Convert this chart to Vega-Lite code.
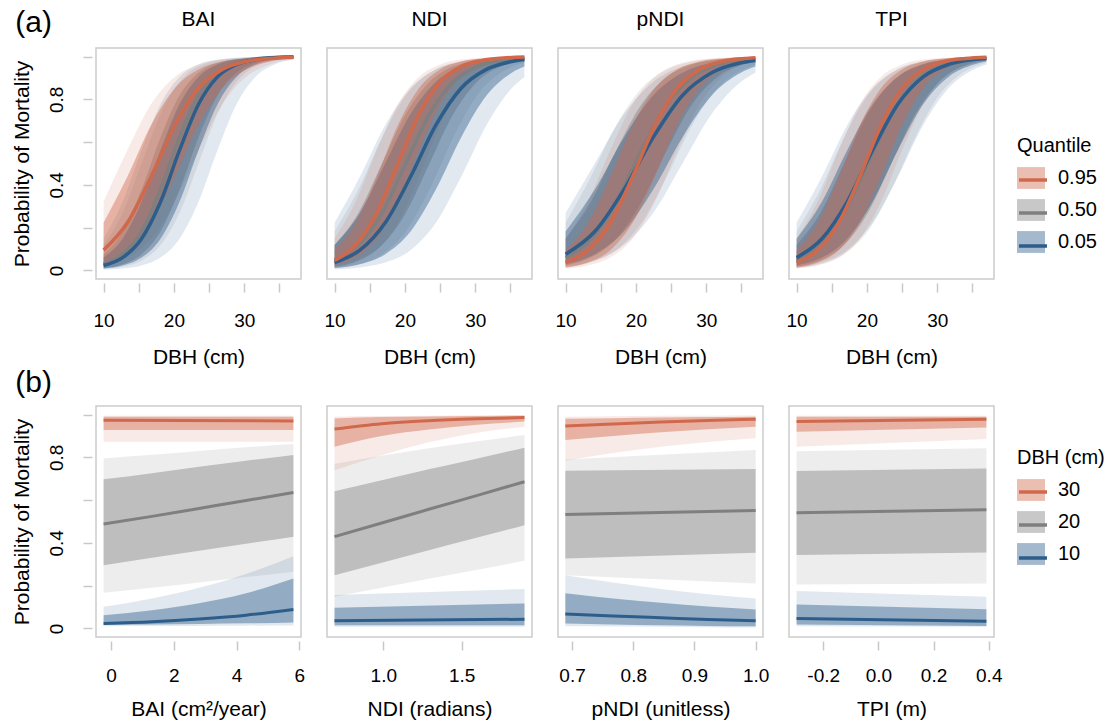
{
"$schema": "https://vega.github.io/schema/vega-lite/v6.json",
"background": "white",
"padding": {"left": 10, "top": 8, "right": 5, "bottom": 5},
"config": {
  "font": "Liberation Sans",
  "view": {"stroke": "#CCCCCC", "strokeWidth": 1.5},
  "axis": {"domain": false, "grid": false, "tickColor": "#C8C8C8", "tickWidth": 1.5, "tickSize": 9, "offset": 4, "labelFontSize": 19, "titleFontSize": 21, "titleFontWeight": "normal", "labelColor": "#000", "titleColor": "#000", "labelPadding": 19, "titlePadding": 16, "labelFlush": false, "labelOverlap": false},
  "title": {"fontSize": 21, "fontWeight": "normal", "color": "#000", "offset": 18},
  "legend": {"titleFontSize": 20, "labelFontSize": 20, "titleFontWeight": "normal", "titleColor": "#000", "labelColor": "#000", "padding": 0, "rowPadding": 7, "titlePadding": 8, "labelOffset": 13, "symbolSize": 784}
},
"datasets": {
"a": [
{"p":"BAI","g":"0.50","x":10,"y":0.029,"l1":0.011,"h1":0.076,"l2":0.007,"h2":0.119},
{"p":"BAI","g":"0.50","x":12.7,"y":0.076,"l1":0.029,"h1":0.182,"l2":0.018,"h2":0.269},
{"p":"BAI","g":"0.50","x":15.4,"y":0.182,"l1":0.076,"h1":0.378,"l2":0.047,"h2":0.5},
{"p":"BAI","g":"0.50","x":18.1,"y":0.378,"l1":0.182,"h1":0.622,"l2":0.119,"h2":0.731},
{"p":"BAI","g":"0.50","x":20.8,"y":0.622,"l1":0.378,"h1":0.818,"l2":0.269,"h2":0.881},
{"p":"BAI","g":"0.50","x":23.5,"y":0.818,"l1":0.622,"h1":0.924,"l2":0.5,"h2":0.953},
{"p":"BAI","g":"0.50","x":26.2,"y":0.924,"l1":0.818,"h1":0.971,"l2":0.731,"h2":0.982},
{"p":"BAI","g":"0.50","x":28.9,"y":0.971,"l1":0.924,"h1":0.989,"l2":0.881,"h2":0.993},
{"p":"BAI","g":"0.50","x":31.6,"y":0.989,"l1":0.971,"h1":0.996,"l2":0.953,"h2":0.998},
{"p":"BAI","g":"0.50","x":34.3,"y":0.996,"l1":0.989,"h1":0.998,"l2":0.982,"h2":0.999},
{"p":"BAI","g":"0.50","x":37,"y":0.998,"l1":0.996,"h1":0.999,"l2":0.993,"h2":1.0},
{"p":"BAI","g":"0.05","x":10,"y":0.023,"l1":0.009,"h1":0.06,"l2":0.003,"h2":0.148},
{"p":"BAI","g":"0.05","x":12.7,"y":0.06,"l1":0.023,"h1":0.148,"l2":0.009,"h2":0.321},
{"p":"BAI","g":"0.05","x":15.4,"y":0.148,"l1":0.06,"h1":0.321,"l2":0.023,"h2":0.562},
{"p":"BAI","g":"0.05","x":18.1,"y":0.321,"l1":0.148,"h1":0.562,"l2":0.06,"h2":0.777},
{"p":"BAI","g":"0.05","x":20.8,"y":0.562,"l1":0.321,"h1":0.777,"l2":0.148,"h2":0.905},
{"p":"BAI","g":"0.05","x":23.5,"y":0.777,"l1":0.562,"h1":0.905,"l2":0.321,"h2":0.963},
{"p":"BAI","g":"0.05","x":26.2,"y":0.905,"l1":0.777,"h1":0.963,"l2":0.562,"h2":0.986},
{"p":"BAI","g":"0.05","x":28.9,"y":0.963,"l1":0.905,"h1":0.986,"l2":0.777,"h2":0.995},
{"p":"BAI","g":"0.05","x":31.6,"y":0.986,"l1":0.963,"h1":0.995,"l2":0.905,"h2":0.998},
{"p":"BAI","g":"0.05","x":34.3,"y":0.995,"l1":0.986,"h1":0.998,"l2":0.963,"h2":0.999},
{"p":"BAI","g":"0.05","x":37,"y":0.998,"l1":0.995,"h1":0.999,"l2":0.986,"h2":1.0},
{"p":"BAI","g":"0.95","x":10,"y":0.095,"l1":0.037,"h1":0.223,"l2":0.023,"h2":0.321},
{"p":"BAI","g":"0.95","x":13.375,"y":0.223,"l1":0.095,"h1":0.438,"l2":0.06,"h2":0.562},
{"p":"BAI","g":"0.95","x":16.75,"y":0.438,"l1":0.223,"h1":0.679,"l2":0.148,"h2":0.777},
{"p":"BAI","g":"0.95","x":20.125,"y":0.679,"l1":0.438,"h1":0.852,"l2":0.321,"h2":0.905},
{"p":"BAI","g":"0.95","x":23.5,"y":0.852,"l1":0.679,"h1":0.94,"l2":0.562,"h2":0.963},
{"p":"BAI","g":"0.95","x":26.875,"y":0.94,"l1":0.852,"h1":0.977,"l2":0.777,"h2":0.986},
{"p":"BAI","g":"0.95","x":30.25,"y":0.977,"l1":0.94,"h1":0.991,"l2":0.905,"h2":0.995},
{"p":"BAI","g":"0.95","x":33.625,"y":0.991,"l1":0.977,"h1":0.997,"l2":0.963,"h2":0.998},
{"p":"BAI","g":"0.95","x":37,"y":0.997,"l1":0.991,"h1":0.999,"l2":0.986,"h2":0.999},
{"p":"NDI","g":"0.50","x":10,"y":0.047,"l1":0.018,"h1":0.119,"l2":0.011,"h2":0.182},
{"p":"NDI","g":"0.50","x":13.375,"y":0.119,"l1":0.047,"h1":0.269,"l2":0.029,"h2":0.378},
{"p":"NDI","g":"0.50","x":16.75,"y":0.269,"l1":0.119,"h1":0.5,"l2":0.076,"h2":0.622},
{"p":"NDI","g":"0.50","x":20.125,"y":0.5,"l1":0.269,"h1":0.731,"l2":0.182,"h2":0.818},
{"p":"NDI","g":"0.50","x":23.5,"y":0.731,"l1":0.5,"h1":0.881,"l2":0.378,"h2":0.924},
{"p":"NDI","g":"0.50","x":26.875,"y":0.881,"l1":0.731,"h1":0.953,"l2":0.622,"h2":0.971},
{"p":"NDI","g":"0.50","x":30.25,"y":0.953,"l1":0.881,"h1":0.982,"l2":0.818,"h2":0.989},
{"p":"NDI","g":"0.50","x":33.625,"y":0.982,"l1":0.953,"h1":0.993,"l2":0.924,"h2":0.996},
{"p":"NDI","g":"0.50","x":37,"y":0.993,"l1":0.982,"h1":0.998,"l2":0.971,"h2":0.999},
{"p":"NDI","g":"0.05","x":10,"y":0.037,"l1":0.011,"h1":0.119,"l2":0.005,"h2":0.223},
{"p":"NDI","g":"0.05","x":13.6,"y":0.095,"l1":0.029,"h1":0.269,"l2":0.014,"h2":0.438},
{"p":"NDI","g":"0.05","x":17.2,"y":0.223,"l1":0.076,"h1":0.5,"l2":0.037,"h2":0.679},
{"p":"NDI","g":"0.05","x":20.8,"y":0.438,"l1":0.182,"h1":0.731,"l2":0.095,"h2":0.852},
{"p":"NDI","g":"0.05","x":24.4,"y":0.679,"l1":0.378,"h1":0.881,"l2":0.223,"h2":0.94},
{"p":"NDI","g":"0.05","x":28,"y":0.852,"l1":0.622,"h1":0.953,"l2":0.438,"h2":0.977},
{"p":"NDI","g":"0.05","x":31.6,"y":0.94,"l1":0.818,"h1":0.982,"l2":0.679,"h2":0.991},
{"p":"NDI","g":"0.05","x":35.2,"y":0.977,"l1":0.924,"h1":0.993,"l2":0.852,"h2":0.997},
{"p":"NDI","g":"0.05","x":37,"y":0.986,"l1":0.953,"h1":0.996,"l2":0.905,"h2":0.998},
{"p":"NDI","g":"0.95","x":10,"y":0.047,"l1":0.023,"h1":0.095,"l2":0.014,"h2":0.148},
{"p":"NDI","g":"0.95","x":13,"y":0.119,"l1":0.06,"h1":0.223,"l2":0.037,"h2":0.321},
{"p":"NDI","g":"0.95","x":16,"y":0.269,"l1":0.148,"h1":0.438,"l2":0.095,"h2":0.562},
{"p":"NDI","g":"0.95","x":19,"y":0.5,"l1":0.321,"h1":0.679,"l2":0.223,"h2":0.777},
{"p":"NDI","g":"0.95","x":22,"y":0.731,"l1":0.562,"h1":0.852,"l2":0.438,"h2":0.905},
{"p":"NDI","g":"0.95","x":25,"y":0.881,"l1":0.777,"h1":0.94,"l2":0.679,"h2":0.963},
{"p":"NDI","g":"0.95","x":28,"y":0.953,"l1":0.905,"h1":0.977,"l2":0.852,"h2":0.986},
{"p":"NDI","g":"0.95","x":31,"y":0.982,"l1":0.963,"h1":0.991,"l2":0.94,"h2":0.995},
{"p":"NDI","g":"0.95","x":34,"y":0.993,"l1":0.986,"h1":0.997,"l2":0.977,"h2":0.998},
{"p":"NDI","g":"0.95","x":37,"y":0.998,"l1":0.995,"h1":0.999,"l2":0.991,"h2":0.999},
{"p":"pNDI","g":"0.50","x":10,"y":0.06,"l1":0.023,"h1":0.148,"l2":0.014,"h2":0.223},
{"p":"pNDI","g":"0.50","x":13.6,"y":0.148,"l1":0.06,"h1":0.321,"l2":0.037,"h2":0.438},
{"p":"pNDI","g":"0.50","x":17.2,"y":0.321,"l1":0.148,"h1":0.562,"l2":0.095,"h2":0.679},
{"p":"pNDI","g":"0.50","x":20.8,"y":0.562,"l1":0.321,"h1":0.777,"l2":0.223,"h2":0.852},
{"p":"pNDI","g":"0.50","x":24.4,"y":0.777,"l1":0.562,"h1":0.905,"l2":0.438,"h2":0.94},
{"p":"pNDI","g":"0.50","x":28,"y":0.905,"l1":0.777,"h1":0.963,"l2":0.679,"h2":0.977},
{"p":"pNDI","g":"0.50","x":31.6,"y":0.963,"l1":0.905,"h1":0.986,"l2":0.852,"h2":0.991},
{"p":"pNDI","g":"0.50","x":35.2,"y":0.986,"l1":0.963,"h1":0.995,"l2":0.94,"h2":0.997},
{"p":"pNDI","g":"0.50","x":37,"y":0.991,"l1":0.977,"h1":0.997,"l2":0.963,"h2":0.998},
{"p":"pNDI","g":"0.05","x":10,"y":0.076,"l1":0.029,"h1":0.182,"l2":0.018,"h2":0.269},
{"p":"pNDI","g":"0.05","x":14.15,"y":0.182,"l1":0.076,"h1":0.378,"l2":0.047,"h2":0.5},
{"p":"pNDI","g":"0.05","x":18.31,"y":0.378,"l1":0.182,"h1":0.622,"l2":0.119,"h2":0.731},
{"p":"pNDI","g":"0.05","x":22.46,"y":0.622,"l1":0.378,"h1":0.818,"l2":0.269,"h2":0.881},
{"p":"pNDI","g":"0.05","x":26.62,"y":0.818,"l1":0.622,"h1":0.924,"l2":0.5,"h2":0.953},
{"p":"pNDI","g":"0.05","x":30.77,"y":0.924,"l1":0.818,"h1":0.971,"l2":0.731,"h2":0.982},
{"p":"pNDI","g":"0.05","x":34.92,"y":0.971,"l1":0.924,"h1":0.989,"l2":0.881,"h2":0.993},
{"p":"pNDI","g":"0.05","x":37,"y":0.982,"l1":0.953,"h1":0.993,"l2":0.924,"h2":0.996},
{"p":"pNDI","g":"0.95","x":10,"y":0.037,"l1":0.014,"h1":0.095,"l2":0.009,"h2":0.148},
{"p":"pNDI","g":"0.95","x":13.18,"y":0.095,"l1":0.037,"h1":0.223,"l2":0.023,"h2":0.321},
{"p":"pNDI","g":"0.95","x":16.35,"y":0.223,"l1":0.095,"h1":0.438,"l2":0.06,"h2":0.562},
{"p":"pNDI","g":"0.95","x":19.53,"y":0.438,"l1":0.223,"h1":0.679,"l2":0.148,"h2":0.777},
{"p":"pNDI","g":"0.95","x":22.71,"y":0.679,"l1":0.438,"h1":0.852,"l2":0.321,"h2":0.905},
{"p":"pNDI","g":"0.95","x":25.88,"y":0.852,"l1":0.679,"h1":0.94,"l2":0.562,"h2":0.963},
{"p":"pNDI","g":"0.95","x":29.06,"y":0.94,"l1":0.852,"h1":0.977,"l2":0.777,"h2":0.986},
{"p":"pNDI","g":"0.95","x":32.24,"y":0.977,"l1":0.94,"h1":0.991,"l2":0.905,"h2":0.995},
{"p":"pNDI","g":"0.95","x":35.41,"y":0.991,"l1":0.977,"h1":0.997,"l2":0.963,"h2":0.998},
{"p":"pNDI","g":"0.95","x":37,"y":0.995,"l1":0.986,"h1":0.998,"l2":0.977,"h2":0.999},
{"p":"TPI","g":"0.50","x":10,"y":0.047,"l1":0.018,"h1":0.119,"l2":0.011,"h2":0.182},
{"p":"TPI","g":"0.50","x":13.375,"y":0.119,"l1":0.047,"h1":0.269,"l2":0.029,"h2":0.378},
{"p":"TPI","g":"0.50","x":16.75,"y":0.269,"l1":0.119,"h1":0.5,"l2":0.076,"h2":0.622},
{"p":"TPI","g":"0.50","x":20.125,"y":0.5,"l1":0.269,"h1":0.731,"l2":0.182,"h2":0.818},
{"p":"TPI","g":"0.50","x":23.5,"y":0.731,"l1":0.5,"h1":0.881,"l2":0.378,"h2":0.924},
{"p":"TPI","g":"0.50","x":26.875,"y":0.881,"l1":0.731,"h1":0.953,"l2":0.622,"h2":0.971},
{"p":"TPI","g":"0.50","x":30.25,"y":0.953,"l1":0.881,"h1":0.982,"l2":0.818,"h2":0.989},
{"p":"TPI","g":"0.50","x":33.625,"y":0.982,"l1":0.953,"h1":0.993,"l2":0.924,"h2":0.996},
{"p":"TPI","g":"0.50","x":37,"y":0.993,"l1":0.982,"h1":0.998,"l2":0.971,"h2":0.999},
{"p":"TPI","g":"0.05","x":10,"y":0.06,"l1":0.023,"h1":0.148,"l2":0.014,"h2":0.223},
{"p":"TPI","g":"0.05","x":13.6,"y":0.148,"l1":0.06,"h1":0.321,"l2":0.037,"h2":0.438},
{"p":"TPI","g":"0.05","x":17.2,"y":0.321,"l1":0.148,"h1":0.562,"l2":0.095,"h2":0.679},
{"p":"TPI","g":"0.05","x":20.8,"y":0.562,"l1":0.321,"h1":0.777,"l2":0.223,"h2":0.852},
{"p":"TPI","g":"0.05","x":24.4,"y":0.777,"l1":0.562,"h1":0.905,"l2":0.438,"h2":0.94},
{"p":"TPI","g":"0.05","x":28,"y":0.905,"l1":0.777,"h1":0.963,"l2":0.679,"h2":0.977},
{"p":"TPI","g":"0.05","x":31.6,"y":0.963,"l1":0.905,"h1":0.986,"l2":0.852,"h2":0.991},
{"p":"TPI","g":"0.05","x":35.2,"y":0.986,"l1":0.963,"h1":0.995,"l2":0.94,"h2":0.997},
{"p":"TPI","g":"0.05","x":37,"y":0.991,"l1":0.977,"h1":0.997,"l2":0.963,"h2":0.998},
{"p":"TPI","g":"0.95","x":10,"y":0.037,"l1":0.014,"h1":0.095,"l2":0.009,"h2":0.148},
{"p":"TPI","g":"0.95","x":13,"y":0.095,"l1":0.037,"h1":0.223,"l2":0.023,"h2":0.321},
{"p":"TPI","g":"0.95","x":16,"y":0.223,"l1":0.095,"h1":0.438,"l2":0.06,"h2":0.562},
{"p":"TPI","g":"0.95","x":19,"y":0.438,"l1":0.223,"h1":0.679,"l2":0.148,"h2":0.777},
{"p":"TPI","g":"0.95","x":22,"y":0.679,"l1":0.438,"h1":0.852,"l2":0.321,"h2":0.905},
{"p":"TPI","g":"0.95","x":25,"y":0.852,"l1":0.679,"h1":0.94,"l2":0.562,"h2":0.963},
{"p":"TPI","g":"0.95","x":28,"y":0.94,"l1":0.852,"h1":0.977,"l2":0.777,"h2":0.986},
{"p":"TPI","g":"0.95","x":31,"y":0.977,"l1":0.94,"h1":0.991,"l2":0.905,"h2":0.995},
{"p":"TPI","g":"0.95","x":34,"y":0.991,"l1":0.977,"h1":0.997,"l2":0.963,"h2":0.998},
{"p":"TPI","g":"0.95","x":37,"y":0.997,"l1":0.991,"h1":0.999,"l2":0.986,"h2":0.999}
],
"b": [
{"p":"BAI","g":"20","x":-0.24,"y":0.488,"l1":0.296,"h1":0.697,"l2":0.167,"h2":0.795},
{"p":"BAI","g":"20","x":1.3,"y":0.524,"l1":0.33,"h1":0.726,"l2":0.19,"h2":0.812},
{"p":"BAI","g":"20","x":2.8,"y":0.561,"l1":0.363,"h1":0.756,"l2":0.215,"h2":0.83},
{"p":"BAI","g":"20","x":4.3,"y":0.598,"l1":0.396,"h1":0.784,"l2":0.24,"h2":0.847},
{"p":"BAI","g":"20","x":5.81,"y":0.636,"l1":0.429,"h1":0.811,"l2":0.265,"h2":0.862},
{"p":"BAI","g":"10","x":-0.24,"y":0.023,"l1":0.017,"h1":0.062,"l2":0.01,"h2":0.101},
{"p":"BAI","g":"10","x":1.3,"y":0.031,"l1":0.019,"h1":0.085,"l2":0.011,"h2":0.14},
{"p":"BAI","g":"10","x":2.8,"y":0.044,"l1":0.021,"h1":0.118,"l2":0.012,"h2":0.19},
{"p":"BAI","g":"10","x":4.3,"y":0.062,"l1":0.024,"h1":0.165,"l2":0.013,"h2":0.255},
{"p":"BAI","g":"10","x":5.81,"y":0.089,"l1":0.028,"h1":0.234,"l2":0.014,"h2":0.338},
{"p":"BAI","g":"30","x":-0.24,"y":0.973,"l1":0.928,"h1":0.99,"l2":0.873,"h2":0.995},
{"p":"BAI","g":"30","x":5.81,"y":0.97,"l1":0.928,"h1":0.99,"l2":0.873,"h2":0.995},
{"p":"NDI","g":"20","x":0.689,"y":0.429,"l1":0.249,"h1":0.642,"l2":0.148,"h2":0.77},
{"p":"NDI","g":"20","x":0.99,"y":0.493,"l1":0.307,"h1":0.693,"l2":0.19,"h2":0.807},
{"p":"NDI","g":"20","x":1.29,"y":0.557,"l1":0.366,"h1":0.744,"l2":0.232,"h2":0.842},
{"p":"NDI","g":"20","x":1.6,"y":0.622,"l1":0.425,"h1":0.795,"l2":0.274,"h2":0.875},
{"p":"NDI","g":"20","x":1.9,"y":0.686,"l1":0.483,"h1":0.845,"l2":0.316,"h2":0.904},
{"p":"NDI","g":"10","x":0.689,"y":0.036,"l1":0.015,"h1":0.097,"l2":0.008,"h2":0.156},
{"p":"NDI","g":"10","x":1.9,"y":0.043,"l1":0.015,"h1":0.117,"l2":0.008,"h2":0.184},
{"p":"NDI","g":"30","x":0.689,"y":0.932,"l1":0.85,"h1":0.982,"l2":0.74,"h2":0.99},
{"p":"NDI","g":"30","x":0.99,"y":0.957,"l1":0.9,"h1":0.988,"l2":0.81,"h2":0.993},
{"p":"NDI","g":"30","x":1.29,"y":0.971,"l1":0.93,"h1":0.991,"l2":0.87,"h2":0.995},
{"p":"NDI","g":"30","x":1.6,"y":0.98,"l1":0.952,"h1":0.993,"l2":0.915,"h2":0.997},
{"p":"NDI","g":"30","x":1.9,"y":0.986,"l1":0.967,"h1":0.995,"l2":0.943,"h2":0.998},
{"p":"pNDI","g":"20","x":0.689,"y":0.533,"l1":0.327,"h1":0.737,"l2":0.249,"h2":0.79},
{"p":"pNDI","g":"20","x":1.0,"y":0.552,"l1":0.354,"h1":0.745,"l2":0.21,"h2":0.834},
{"p":"pNDI","g":"10","x":0.689,"y":0.067,"l1":0.023,"h1":0.164,"l2":0.01,"h2":0.249},
{"p":"pNDI","g":"10","x":0.767,"y":0.058,"l1":0.019,"h1":0.14,"l2":0.009,"h2":0.215},
{"p":"pNDI","g":"10","x":0.845,"y":0.05,"l1":0.015,"h1":0.12,"l2":0.008,"h2":0.185},
{"p":"pNDI","g":"10","x":0.922,"y":0.042,"l1":0.012,"h1":0.103,"l2":0.006,"h2":0.16},
{"p":"pNDI","g":"10","x":1.0,"y":0.036,"l1":0.01,"h1":0.089,"l2":0.005,"h2":0.14},
{"p":"pNDI","g":"30","x":0.689,"y":0.946,"l1":0.881,"h1":0.98,"l2":0.784,"h2":0.99},
{"p":"pNDI","g":"30","x":0.767,"y":0.956,"l1":0.9,"h1":0.983,"l2":0.82,"h2":0.992},
{"p":"pNDI","g":"30","x":0.845,"y":0.965,"l1":0.917,"h1":0.986,"l2":0.85,"h2":0.994},
{"p":"pNDI","g":"30","x":0.922,"y":0.972,"l1":0.931,"h1":0.988,"l2":0.872,"h2":0.995},
{"p":"pNDI","g":"30","x":1.0,"y":0.978,"l1":0.943,"h1":0.99,"l2":0.889,"h2":0.996},
{"p":"TPI","g":"20","x":-0.2965,"y":0.541,"l1":0.343,"h1":0.736,"l2":0.206,"h2":0.829},
{"p":"TPI","g":"20","x":0.3915,"y":0.555,"l1":0.355,"h1":0.748,"l2":0.21,"h2":0.842},
{"p":"TPI","g":"10","x":-0.2965,"y":0.047,"l1":0.018,"h1":0.112,"l2":0.01,"h2":0.175},
{"p":"TPI","g":"10","x":0.3915,"y":0.034,"l1":0.012,"h1":0.09,"l2":0.008,"h2":0.148},
{"p":"TPI","g":"30","x":-0.2965,"y":0.967,"l1":0.92,"h1":0.99,"l2":0.85,"h2":0.995},
{"p":"TPI","g":"30","x":0.3915,"y":0.978,"l1":0.94,"h1":0.99,"l2":0.886,"h2":0.995}
]
},
"vconcat": [
{
 "title": {"text": "(a)", "anchor": "start", "frame": "bounds", "fontSize": 30, "offset": -30, "dx": 5},
 "data": {"name": "a"},
 "bounds": "flush",
 "spacing": 26,
 "hconcat": [
  {"width": 205, "height": 231, "title": {"text": "BAI"},
   "transform": [{"filter": "datum.p === 'BAI'"}],
   "encoding": {"x": {"field": "x", "type": "quantitative", "scale": {"domain": [8.92, 38.08], "nice": false, "zero": false}, "axis": {"values": [10,15,20,25,30,35], "labelExpr": "datum.value % 10 === 0 ? datum.label : ''", "title": "DBH (cm)"}}},
   "layer": [
    {"mark": {"type": "area", "opacity": 0.14, "interpolate": "monotone"},
     "encoding": {"y": {"field": "l2", "type": "quantitative", "scale": {"domain": [-0.04, 1.04], "nice": false, "zero": false}, "axis": {"title": "Probability of Mortality", "values": [0,0.2,0.4,0.6,0.8,1], "labelExpr": "round(datum.value*10) % 4 === 0 ? (datum.value === 0 ? '0' : format(datum.value, '.1f')) : ''", "labelAngle": -90, "labelAlign": "center", "labelBaseline": "bottom", "labelPadding": 17, "titlePadding": 15}},
      "y2": {"field": "h2"},
      "fill": {"field": "g", "type": "nominal", "scale": {"domain": ["0.95","0.50","0.05"], "range": ["#D0694C","#7F7F7F","#2D5D8B"]},
       "legend": {"title": "Quantile", "orient": "none", "legendX": 921, "legendY": 88, "symbolType": "M-1,-0.78H1V0.78H-1Z", "symbolOpacity": 0.4, "symbolStrokeWidth": 0}}}},
    {"mark": {"type": "area", "opacity": 0.43, "interpolate": "monotone"},
     "encoding": {"y": {"field": "l1", "type": "quantitative", "scale": {"domain": [-0.04, 1.04], "nice": false, "zero": false}, "axis": {"title": "Probability of Mortality", "values": [0,0.2,0.4,0.6,0.8,1], "labelExpr": "round(datum.value*10) % 4 === 0 ? (datum.value === 0 ? '0' : format(datum.value, '.1f')) : ''", "labelAngle": -90, "labelAlign": "center", "labelBaseline": "bottom", "labelPadding": 17, "titlePadding": 15}},
      "y2": {"field": "h1"},
      "fill": {"field": "g", "type": "nominal", "scale": {"domain": ["0.95","0.50","0.05"], "range": ["#D0694C","#7F7F7F","#2D5D8B"]}}}},
    {"mark": {"type": "line", "strokeWidth": 3.5, "interpolate": "monotone"},
     "encoding": {"y": {"field": "y", "type": "quantitative", "scale": {"domain": [-0.04, 1.04], "nice": false, "zero": false}, "axis": {"title": "Probability of Mortality", "values": [0,0.2,0.4,0.6,0.8,1], "labelExpr": "round(datum.value*10) % 4 === 0 ? (datum.value === 0 ? '0' : format(datum.value, '.1f')) : ''", "labelAngle": -90, "labelAlign": "center", "labelBaseline": "bottom", "labelPadding": 17, "titlePadding": 15}},
      "stroke": {"field": "g", "type": "nominal", "scale": {"domain": ["0.95","0.50","0.05","_"], "range": ["#D0694C","#7F7F7F","#2D5D8B","#000000"]},
       "legend": {"title": " ", "orient": "none", "legendX": 921, "legendY": 88, "values": ["0.95","0.50","0.05"], "labelExpr": "' '", "symbolType": "stroke", "symbolStrokeWidth": 3.5, "titleColor": "transparent", "labelColor": "transparent"}}}}
   ]},
  {"width": 205, "height": 231, "title": {"text": "NDI"},
   "transform": [{"filter": "datum.p === 'NDI'"}],
   "encoding": {"x": {"field": "x", "type": "quantitative", "scale": {"domain": [8.92, 38.08], "nice": false, "zero": false}, "axis": {"values": [10,15,20,25,30,35], "labelExpr": "datum.value % 10 === 0 ? datum.label : ''", "title": "DBH (cm)"}}},
   "layer": [
    {"mark": {"type": "area", "opacity": 0.14, "interpolate": "monotone"},
     "encoding": {"y": {"field": "l2", "type": "quantitative", "scale": {"domain": [-0.04, 1.04], "nice": false, "zero": false}, "axis": null}, "y2": {"field": "h2"},
      "fill": {"field": "g", "type": "nominal", "scale": {"domain": ["0.95","0.50","0.05"], "range": ["#D0694C","#7F7F7F","#2D5D8B"]}}}},
    {"mark": {"type": "area", "opacity": 0.43, "interpolate": "monotone"},
     "encoding": {"y": {"field": "l1", "type": "quantitative", "scale": {"domain": [-0.04, 1.04], "nice": false, "zero": false}, "axis": null}, "y2": {"field": "h1"},
      "fill": {"field": "g", "type": "nominal", "scale": {"domain": ["0.95","0.50","0.05"], "range": ["#D0694C","#7F7F7F","#2D5D8B"]}}}},
    {"mark": {"type": "line", "strokeWidth": 3.5, "interpolate": "monotone"},
     "encoding": {"y": {"field": "y", "type": "quantitative", "scale": {"domain": [-0.04, 1.04], "nice": false, "zero": false}, "axis": null},
      "stroke": {"field": "g", "type": "nominal", "scale": {"domain": ["0.95","0.50","0.05","_"], "range": ["#D0694C","#7F7F7F","#2D5D8B","#000000"]}}}}
   ]},
  {"width": 205, "height": 231, "title": {"text": "pNDI"},
   "transform": [{"filter": "datum.p === 'pNDI'"}],
   "encoding": {"x": {"field": "x", "type": "quantitative", "scale": {"domain": [8.92, 38.08], "nice": false, "zero": false}, "axis": {"values": [10,15,20,25,30,35], "labelExpr": "datum.value % 10 === 0 ? datum.label : ''", "title": "DBH (cm)"}}},
   "layer": [
    {"mark": {"type": "area", "opacity": 0.14, "interpolate": "monotone"},
     "encoding": {"y": {"field": "l2", "type": "quantitative", "scale": {"domain": [-0.04, 1.04], "nice": false, "zero": false}, "axis": null}, "y2": {"field": "h2"},
      "fill": {"field": "g", "type": "nominal", "scale": {"domain": ["0.95","0.50","0.05"], "range": ["#D0694C","#7F7F7F","#2D5D8B"]}}}},
    {"mark": {"type": "area", "opacity": 0.43, "interpolate": "monotone"},
     "encoding": {"y": {"field": "l1", "type": "quantitative", "scale": {"domain": [-0.04, 1.04], "nice": false, "zero": false}, "axis": null}, "y2": {"field": "h1"},
      "fill": {"field": "g", "type": "nominal", "scale": {"domain": ["0.95","0.50","0.05"], "range": ["#D0694C","#7F7F7F","#2D5D8B"]}}}},
    {"mark": {"type": "line", "strokeWidth": 3.5, "interpolate": "monotone"},
     "encoding": {"y": {"field": "y", "type": "quantitative", "scale": {"domain": [-0.04, 1.04], "nice": false, "zero": false}, "axis": null},
      "stroke": {"field": "g", "type": "nominal", "scale": {"domain": ["0.95","0.50","0.05","_"], "range": ["#D0694C","#7F7F7F","#2D5D8B","#000000"]}}}}
   ]},
  {"width": 205, "height": 231, "title": {"text": "TPI"},
   "transform": [{"filter": "datum.p === 'TPI'"}],
   "encoding": {"x": {"field": "x", "type": "quantitative", "scale": {"domain": [8.92, 38.08], "nice": false, "zero": false}, "axis": {"values": [10,15,20,25,30,35], "labelExpr": "datum.value % 10 === 0 ? datum.label : ''", "title": "DBH (cm)"}}},
   "layer": [
    {"mark": {"type": "area", "opacity": 0.14, "interpolate": "monotone"},
     "encoding": {"y": {"field": "l2", "type": "quantitative", "scale": {"domain": [-0.04, 1.04], "nice": false, "zero": false}, "axis": null}, "y2": {"field": "h2"},
      "fill": {"field": "g", "type": "nominal", "scale": {"domain": ["0.95","0.50","0.05"], "range": ["#D0694C","#7F7F7F","#2D5D8B"]}}}},
    {"mark": {"type": "area", "opacity": 0.43, "interpolate": "monotone"},
     "encoding": {"y": {"field": "l1", "type": "quantitative", "scale": {"domain": [-0.04, 1.04], "nice": false, "zero": false}, "axis": null}, "y2": {"field": "h1"},
      "fill": {"field": "g", "type": "nominal", "scale": {"domain": ["0.95","0.50","0.05"], "range": ["#D0694C","#7F7F7F","#2D5D8B"]}}}},
    {"mark": {"type": "line", "strokeWidth": 3.5, "interpolate": "monotone"},
     "encoding": {"y": {"field": "y", "type": "quantitative", "scale": {"domain": [-0.04, 1.04], "nice": false, "zero": false}, "axis": null},
      "stroke": {"field": "g", "type": "nominal", "scale": {"domain": ["0.95","0.50","0.05","_"], "range": ["#D0694C","#7F7F7F","#2D5D8B","#000000"]}}}}
   ]}
 ]
},
{
 "title": {"text": "(b)", "anchor": "start", "frame": "bounds", "fontSize": 30, "offset": 7, "dx": 5},
 "data": {"name": "b"},
 "bounds": "flush",
 "spacing": 26,
 "hconcat": [
  {"width": 205, "height": 231,
   "transform": [{"filter": "datum.p === 'BAI'"}],
   "encoding": {"x": {"field": "x", "type": "quantitative", "scale": {"domain": [-0.482, 6.052], "nice": false, "zero": false}, "axis": {"values": [0,2,4,6], "title": "BAI (cm²/year)", "labelPadding": 16, "titlePadding": 13}}},
   "layer": [
    {"mark": {"type": "area", "opacity": 0.14, "interpolate": "monotone"},
     "encoding": {"y": {"field": "l2", "type": "quantitative", "scale": {"domain": [-0.04, 1.04], "nice": false, "zero": false}, "axis": {"title": "Probability of Mortality", "values": [0,0.2,0.4,0.6,0.8,1], "labelExpr": "round(datum.value*10) % 4 === 0 ? (datum.value === 0 ? '0' : format(datum.value, '.1f')) : ''", "labelAngle": -90, "labelAlign": "center", "labelBaseline": "bottom", "labelPadding": 17, "titlePadding": 15}},
      "y2": {"field": "h2"},
      "fill": {"field": "g", "type": "nominal", "scale": {"domain": ["30","20","10"], "range": ["#D0694C","#7F7F7F","#2D5D8B"]},
       "legend": {"title": "DBH (cm)", "orient": "none", "legendX": 921, "legendY": 42, "symbolType": "M-1,-0.78H1V0.78H-1Z", "symbolOpacity": 0.4, "symbolStrokeWidth": 0}}}},
    {"mark": {"type": "area", "opacity": 0.43, "interpolate": "monotone"},
     "encoding": {"y": {"field": "l1", "type": "quantitative", "scale": {"domain": [-0.04, 1.04], "nice": false, "zero": false}, "axis": {"title": "Probability of Mortality", "values": [0,0.2,0.4,0.6,0.8,1], "labelExpr": "round(datum.value*10) % 4 === 0 ? (datum.value === 0 ? '0' : format(datum.value, '.1f')) : ''", "labelAngle": -90, "labelAlign": "center", "labelBaseline": "bottom", "labelPadding": 17, "titlePadding": 15}},
      "y2": {"field": "h1"},
      "fill": {"field": "g", "type": "nominal", "scale": {"domain": ["30","20","10"], "range": ["#D0694C","#7F7F7F","#2D5D8B"]}}}},
    {"mark": {"type": "line", "strokeWidth": 3, "interpolate": "monotone"},
     "encoding": {"y": {"field": "y", "type": "quantitative", "scale": {"domain": [-0.04, 1.04], "nice": false, "zero": false}, "axis": {"title": "Probability of Mortality", "values": [0,0.2,0.4,0.6,0.8,1], "labelExpr": "round(datum.value*10) % 4 === 0 ? (datum.value === 0 ? '0' : format(datum.value, '.1f')) : ''", "labelAngle": -90, "labelAlign": "center", "labelBaseline": "bottom", "labelPadding": 17, "titlePadding": 15}},
      "stroke": {"field": "g", "type": "nominal", "scale": {"domain": ["30","20","10","_"], "range": ["#D0694C","#7F7F7F","#2D5D8B","#000000"]},
       "legend": {"title": " ", "orient": "none", "legendX": 921, "legendY": 42, "values": ["30","20","10"], "labelExpr": "' '", "symbolType": "stroke", "symbolStrokeWidth": 3.5, "titleColor": "transparent", "labelColor": "transparent"}}}}
   ]},
  {"width": 205, "height": 231,
   "transform": [{"filter": "datum.p === 'NDI'"}],
   "encoding": {"x": {"field": "x", "type": "quantitative", "scale": {"domain": [0.641, 1.948], "nice": false, "zero": false}, "axis": {"values": [1.0,1.5], "format": ".1f", "title": "NDI (radians)", "labelPadding": 16, "titlePadding": 13}}},
   "layer": [
    {"mark": {"type": "area", "opacity": 0.14, "interpolate": "monotone"},
     "encoding": {"y": {"field": "l2", "type": "quantitative", "scale": {"domain": [-0.04, 1.04], "nice": false, "zero": false}, "axis": null}, "y2": {"field": "h2"},
      "fill": {"field": "g", "type": "nominal", "scale": {"domain": ["30","20","10"], "range": ["#D0694C","#7F7F7F","#2D5D8B"]}}}},
    {"mark": {"type": "area", "opacity": 0.43, "interpolate": "monotone"},
     "encoding": {"y": {"field": "l1", "type": "quantitative", "scale": {"domain": [-0.04, 1.04], "nice": false, "zero": false}, "axis": null}, "y2": {"field": "h1"},
      "fill": {"field": "g", "type": "nominal", "scale": {"domain": ["30","20","10"], "range": ["#D0694C","#7F7F7F","#2D5D8B"]}}}},
    {"mark": {"type": "line", "strokeWidth": 3, "interpolate": "monotone"},
     "encoding": {"y": {"field": "y", "type": "quantitative", "scale": {"domain": [-0.04, 1.04], "nice": false, "zero": false}, "axis": null},
      "stroke": {"field": "g", "type": "nominal", "scale": {"domain": ["30","20","10","_"], "range": ["#D0694C","#7F7F7F","#2D5D8B","#000000"]}}}}
   ]},
  {"width": 205, "height": 231,
   "transform": [{"filter": "datum.p === 'pNDI'"}],
   "encoding": {"x": {"field": "x", "type": "quantitative", "scale": {"domain": [0.677, 1.012], "nice": false, "zero": false}, "axis": {"values": [0.7,0.8,0.9,1.0], "format": ".1f", "title": "pNDI (unitless)", "labelPadding": 16, "titlePadding": 13}}},
   "layer": [
    {"mark": {"type": "area", "opacity": 0.14, "interpolate": "monotone"},
     "encoding": {"y": {"field": "l2", "type": "quantitative", "scale": {"domain": [-0.04, 1.04], "nice": false, "zero": false}, "axis": null}, "y2": {"field": "h2"},
      "fill": {"field": "g", "type": "nominal", "scale": {"domain": ["30","20","10"], "range": ["#D0694C","#7F7F7F","#2D5D8B"]}}}},
    {"mark": {"type": "area", "opacity": 0.43, "interpolate": "monotone"},
     "encoding": {"y": {"field": "l1", "type": "quantitative", "scale": {"domain": [-0.04, 1.04], "nice": false, "zero": false}, "axis": null}, "y2": {"field": "h1"},
      "fill": {"field": "g", "type": "nominal", "scale": {"domain": ["30","20","10"], "range": ["#D0694C","#7F7F7F","#2D5D8B"]}}}},
    {"mark": {"type": "line", "strokeWidth": 3, "interpolate": "monotone"},
     "encoding": {"y": {"field": "y", "type": "quantitative", "scale": {"domain": [-0.04, 1.04], "nice": false, "zero": false}, "axis": null},
      "stroke": {"field": "g", "type": "nominal", "scale": {"domain": ["30","20","10","_"], "range": ["#D0694C","#7F7F7F","#2D5D8B","#000000"]}}}}
   ]},
  {"width": 205, "height": 231,
   "transform": [{"filter": "datum.p === 'TPI'"}],
   "encoding": {"x": {"field": "x", "type": "quantitative", "scale": {"domain": [-0.324, 0.419], "nice": false, "zero": false}, "axis": {"values": [-0.2,0,0.2,0.4], "labelExpr": "(datum.value < 0 ? '-' : '') + format(abs(datum.value), '.1f')", "title": "TPI (m)", "labelPadding": 16, "titlePadding": 13}}},
   "layer": [
    {"mark": {"type": "area", "opacity": 0.14, "interpolate": "monotone"},
     "encoding": {"y": {"field": "l2", "type": "quantitative", "scale": {"domain": [-0.04, 1.04], "nice": false, "zero": false}, "axis": null}, "y2": {"field": "h2"},
      "fill": {"field": "g", "type": "nominal", "scale": {"domain": ["30","20","10"], "range": ["#D0694C","#7F7F7F","#2D5D8B"]}}}},
    {"mark": {"type": "area", "opacity": 0.43, "interpolate": "monotone"},
     "encoding": {"y": {"field": "l1", "type": "quantitative", "scale": {"domain": [-0.04, 1.04], "nice": false, "zero": false}, "axis": null}, "y2": {"field": "h1"},
      "fill": {"field": "g", "type": "nominal", "scale": {"domain": ["30","20","10"], "range": ["#D0694C","#7F7F7F","#2D5D8B"]}}}},
    {"mark": {"type": "line", "strokeWidth": 3, "interpolate": "monotone"},
     "encoding": {"y": {"field": "y", "type": "quantitative", "scale": {"domain": [-0.04, 1.04], "nice": false, "zero": false}, "axis": null},
      "stroke": {"field": "g", "type": "nominal", "scale": {"domain": ["30","20","10","_"], "range": ["#D0694C","#7F7F7F","#2D5D8B","#000000"]}}}}
   ]}
 ]
}
],
"spacing": 0,
"resolve": {"scale": {"fill": "independent", "stroke": "independent"}}
}
